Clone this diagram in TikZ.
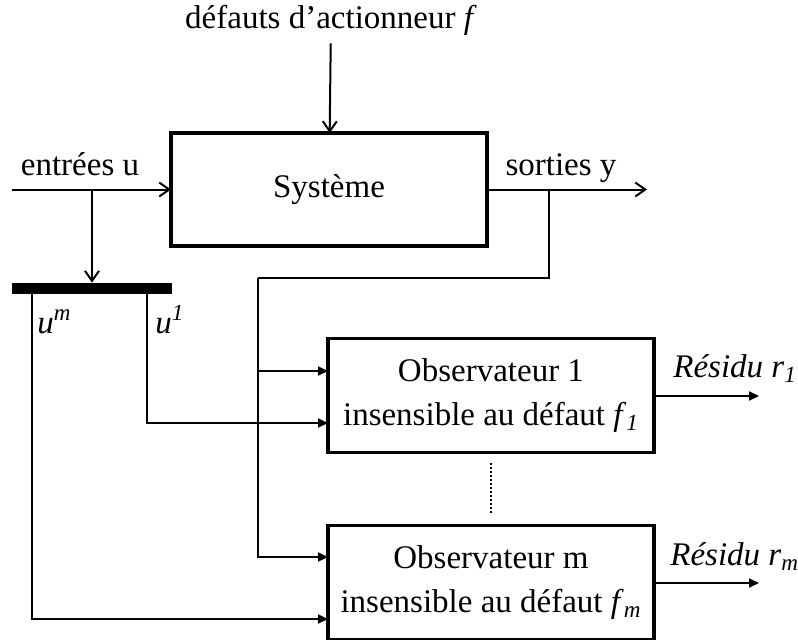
\documentclass[tikz,border=0pt]{standalone}
\usepackage{fontspec}
\setmainfont{Liberation Serif}
\usetikzlibrary{arrows.meta,positioning}

\begin{document}
\begin{tikzpicture}[
  x=0.5pt, y=-0.5pt,
  font=\fontsize{16.5}{22}\selectfont,
  blk/.style={draw, line width=1.6pt, outer sep=0pt, align=center,
              minimum width=163pt, minimum height=57pt},
  lbl/.style={inner sep=0pt, anchor=base},
  wire/.style={line width=1pt},
  barb/.style={wire, -{Straight Barb[length=5pt, width=7pt]}},
  arr/.style={wire, -{Triangle[length=5pt, width=4.5pt]}}
]
\useasboundingbox (0,0) rectangle (798,639);
\node[blk, minimum width=158pt, minimum height=56.5pt] (sys) at (329,189.5) {Système};
\node[blk] (obs1) at (491,395.5) {Observateur 1\\insensible au défaut \textit{f}\textsubscript{\textit{1}}};
\node[blk, below=36.5pt of obs1] (obsm) {Observateur m\\insensible au défaut \textit{f}\textsubscript{\textit{m}}};
\node[fill, inner sep=0pt, minimum width=80pt, minimum height=5.5pt] (bus) at (92,288.5) {};
% labels
\node[lbl] (fault) at (331,28) {défauts d’actionneur \textit{f}};
\node[lbl] (ulbl) at (80,175) {entrées u};
\node[lbl] (ylbl) at (561,175) {sorties y};
\node[lbl, anchor=base west] (umlbl) at (37,333) {\textit{u}\textsuperscript{\textit{m}}};
\node[lbl, anchor=base west] (u1lbl) at (155,333) {\textit{u}\textsuperscript{\textit{1}}};
\node[lbl, anchor=base west] (r1lbl) at (673,377) {\textit{Résidu r}\textsubscript{\textit{1}}};
\node[lbl, anchor=base west] (rmlbl) at (670,565) {\textit{Résidu r}\textsubscript{\textit{m}}};
% wire ends and corners
\coordinate (uin) at (12,189.5);
\coordinate (usp) at (92,189.5);
\coordinate (yout) at (647,189.5);
\coordinate (ybr) at (549,189.5);
\coordinate (fb) at (258,278);
\coordinate (in1) at (258,371);
\coordinate (inm) at (258,557);
\coordinate (c1) at (147,423);
\coordinate (cm) at (32,619);
\coordinate (r1) at (759,396);
\coordinate (rm) at (759,583);
% connectors
\draw[barb, shorten <=4pt] (fault) -- (sys);
\draw[barb] (uin) -- (sys);
\draw[barb] (sys) -- (yout);
\draw[barb] (usp) -- (bus);
\draw[wire] (ybr) |- (fb);
\draw[arr] (fb) -- (inm) -- (inm -| obsm.west);
\draw[arr] (in1) -- (in1 -| obs1.west);
\draw[arr] (bus.south -| c1) |- (c1 -| obs1.west);
\draw[arr] (bus.south -| cm) |- (cm -| obsm.west);
\draw[arr] (obs1.east |- r1) -- (r1);
\draw[arr] (obsm.east |- rm) -- (rm);
\draw[wire, dash pattern=on 1pt off 1pt, shorten <=5pt, shorten >=6.5pt] (obs1) -- (obsm);
\end{tikzpicture}
\end{document}
